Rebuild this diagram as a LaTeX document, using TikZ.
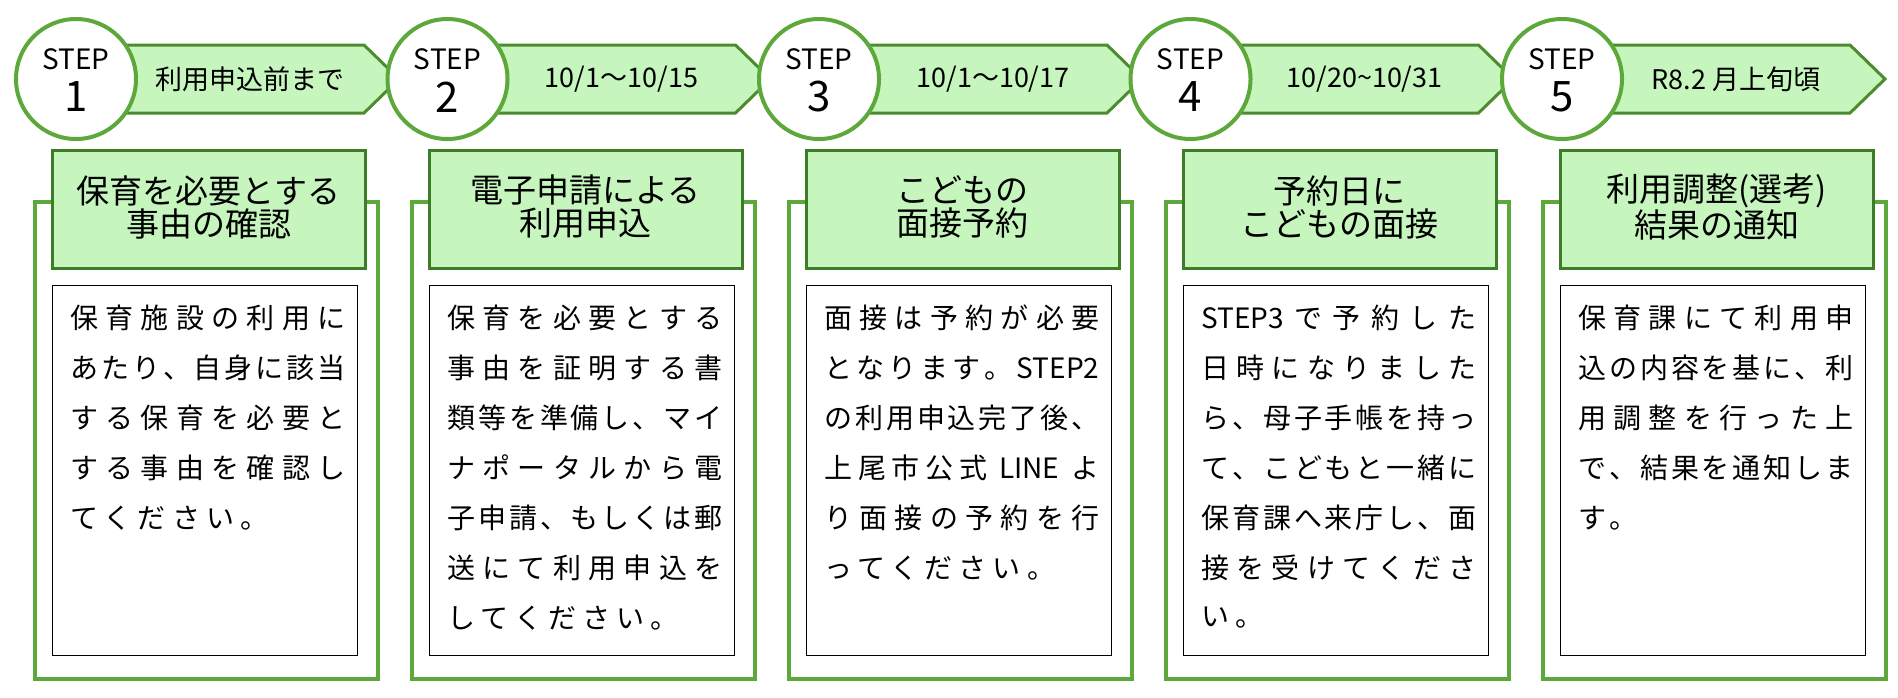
\documentclass[tikz,border=0pt]{standalone}
\usepackage{fontspec}
\setmainfont{Noto Sans CJK JP}
\definecolor{frameg}{HTML}{5DA83A}
\definecolor{headg}{HTML}{3E7D28}
\definecolor{fillg}{HTML}{C6F5BE}
\definecolor{bandg}{HTML}{4C8C2E}
\def\jlend{\jlend}
\def\jlendmac{\jlend}
\def\jlfirst#1{#1\jlaux}
\def\jlaux#1{\def\jltmp{#1}\ifx\jltmp\jlendmac\else\hfil#1\expandafter\jlaux\fi}
\def\jl#1{\hbox to 137.5pt{\expandafter\jlfirst#1\jlend}}
\def\Sa{STEP3}\def\Sb{STEP2}\def\Lne{\ LINE\ }
\tikzset{
  frameline/.style={draw=frameg,line width=2pt},
  headbox/.style={draw=headg,fill=fillg,line width=1.5pt},
  bandbox/.style={draw=bandg,fill=fillg,line width=1.5pt},
  stepcircle/.style={draw=frameg,fill=white,line width=2pt,circle,minimum size=60pt,inner sep=0pt},
  innerbox/.style={draw=black,line width=0.4pt},
  bodytext/.style={anchor=west,inner sep=0pt,font=\fontsize{14pt}{16pt}\selectfont},
  lasttext/.style={anchor=west,inner sep=0pt,font=\fontsize{14pt}{16pt}\selectfont\addfontfeatures{LetterSpace=22}},
  headtext/.style={align=center,inner sep=0pt,font=\fontsize{16.5pt}{16.5pt}\selectfont},
  bandtext/.style={inner sep=0pt,font=\fontsize{13.5pt}{15pt}\selectfont},
}
% #1 idx, #2 number, #3 band text, #4 head, #5 full lines, #6 count, #7 last line
\newcommand\stepblock[7]{%
  \pgfmathsetmacro\cx{76+371.5*#1}%
  \pgfmathsetmacro\fx{35+377*#1}%
  \pgfmathsetmacro\rx{\cx+288}%
  \pgfmathsetmacro\tx{\cx+323}%
  \pgfmathsetmacro\bx{(\cx+60+\rx)/2}%
  \draw[frameline] (\fx,202) rectangle (\fx+343,679);
  \draw[innerbox] (\fx+17,285) rectangle (\fx+322,655);
  \node[headbox,minimum width=156.5pt,minimum height=59pt,inner sep=0pt] (h#2) at (\fx+173.5,209) {};
  \node[headtext] (ht#2) at (\fx+173.5,207) {#4};
  \draw[bandbox] (\cx,45) -- (\rx,45) -- (\tx,79) -- (\rx,113) -- (\cx,113) -- cycle;
  \node[bandtext] (bt#2) at (\bx,79) {#3};
  \node[stepcircle] (c#2) at (\cx,79) {};
  \node[inner sep=0pt,font=\fontsize{14pt}{14pt}\selectfont] (s#2) at (\cx,59) {STEP};
  \node[inner sep=0pt,font=\fontsize{21pt}{21pt}\selectfont] (n#2) at (\cx,97) {#2};
  \foreach \l [count=\k from 0] in {#5} {
    \node[bodytext] (b#2-\k) at (\fx+35,318+50*\k) {\jl\l};
  }
  \node[lasttext] (bl#2) at (\fx+35,318+50*#6) {#7};
}
\begin{document}
\begin{tikzpicture}[x=0.5pt,y=-0.5pt]
\useasboundingbox (0,0) rectangle (1898,697);
\stepblock{0}{1}{利用申込前まで}{保育を必要とする\\事由の確認}{保育施設の利用に,あたり、自身に該当,する保育を必要と,する事由を確認し}{4}{てください。}
\stepblock{1}{2}{10/1～10/15}{電子申請による\\利用申込}{保育を必要とする,事由を証明する書,類等を準備し、マイ,ナポータルから電,子申請、もしくは郵,送にて利用申込を}{6}{してください。}
\stepblock{2}{3}{10/1～10/17}{こどもの\\面接予約}{面接は予約が必要,となります。\Sb,の利用申込完了後、,上尾市公式\Lne よ,り面接の予約を行}{5}{ってください。}
\stepblock{3}{4}{10/20\textasciitilde 10/31}{予約日に\\こどもの面接}{\Sa で予約した,日時になりました,ら、母子手帳を持っ,て、こどもと一緒に,保育課へ来庁し、面,接を受けてくださ}{6}{い。}
\stepblock{4}{5}{R8.2 月上旬頃}{利用調整(選考)\\結果の通知}{保育課にて利用申,込の内容を基に、利,用調整を行った上,で、結果を通知しま}{4}{す。}
\end{tikzpicture}
\end{document}
